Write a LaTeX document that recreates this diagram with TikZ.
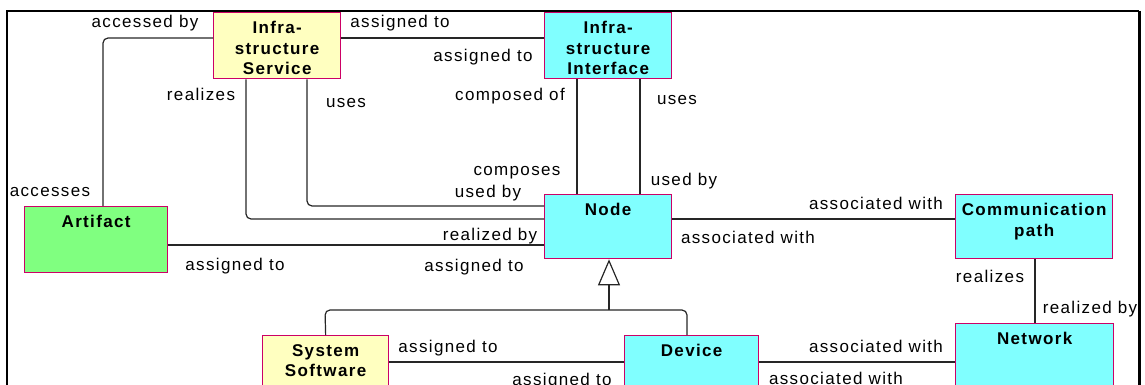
\documentclass[tikz,border=0pt]{standalone}
\usepackage{fontspec}
\setmainfont{Liberation Sans}[LetterSpace=8]
\usepackage{tikz}
\usetikzlibrary{positioning,calc,arrows.meta}
\definecolor{edge}{RGB}{204, 0, 102}
\definecolor{svcyellow}{RGB}{255, 255, 192}
\definecolor{techcyan}{RGB}{128, 255, 255}
\definecolor{artgreen}{RGB}{128, 255, 128}

\tikzset{
  box/.style={draw=edge, line width=1.3pt, anchor=north west, inner sep=0},
  title/.style={anchor=north, yshift=-9pt, inner sep=0, align=center,
    font=\fontsize{17}{20.5}\selectfont\bfseries},
  lbl/.style={anchor=base, inner sep=0, font=\fontsize{17}{20}\selectfont},
  conn/.style={line width=1.2pt, draw=black!85, rounded corners=5pt},
}

\begin{document}
\begin{tikzpicture}[x=1pt, y=-1pt]
    \useasboundingbox (0,0) rectangle (1145,385);
    \clip (0,0) rectangle (1145,385);
    \draw[line width=1.2pt] (7,390) -- (7,11) -- (1139,11);
    \draw[line width=3pt] (1139.5,11) -- (1139.5,390);

    % elements
    \node[box, fill=svcyellow, minimum width=127pt, minimum height=66pt,
      label={[title]north:Infra-\\structure\\Service}] (infrasvc) at (213,12) {};
    \node[box, fill=techcyan, minimum width=127pt, minimum height=66pt,
      label={[title]north:Infra-\\structure\\Interface}] (infraif) at (544,12) {};
    \node[box, fill=artgreen, minimum width=143pt, minimum height=66pt,
      label={[title]north:Artifact}] (artifact) at (24,206) {};
    \node[box, fill=techcyan, minimum width=127pt, minimum height=64pt,
      label={[title]north:Node}] (infranode) at (544,194) {};
    \node[box, fill=techcyan, minimum width=157pt, minimum height=64pt,
      label={[title]north:Communication\\path}] (commpath) at (955,194) {};
    \node[box, fill=techcyan, minimum width=158pt, minimum height=90pt,
      label={[title]north:Network}] (network) at (955,323) {};
    \node[box, fill=svcyellow, minimum width=126pt, minimum height=80pt,
      label={[title]north:System\\Software}] (syssw) at (262,335) {};
    \node[box, fill=techcyan, minimum width=134pt, minimum height=80pt,
      label={[title]north:Device}] (device) at (624,335) {};

    % relations
    \draw[conn] (infrasvc.east |- 0,38) -- (infraif.west |- 0,38);
    \draw[conn] (infrasvc.west |- 0,38) -- (103,38) -- (103,0 |- artifact.north);
    \draw[conn] (246,0 |- infrasvc.south) -- (246,219) -- (infranode.west |- 0,219);
    \draw[conn] (307,0 |- infrasvc.south) -- (307,206) -- (infranode.west |- 0,206);
    \draw[conn] (577,0 |- infraif.south) -- (577,0 |- infranode.north);
    \draw[conn] (640,0 |- infraif.south) -- (640,0 |- infranode.north);
    \draw[conn] (artifact.east |- 0,245) -- (infranode.west |- 0,245);
    \draw[conn] (infranode.east |- 0,219) -- (commpath.west |- 0,219);
    \draw[conn] (1035,0 |- commpath.south) -- (1035,0 |- network.north);
    \draw[conn] (syssw.north) -- (325,310) -- (687,310) -- (687,0 |- device.north);
    \draw[conn, -{Triangle[open, width=22pt, length=26pt, line width=1.2pt]}]
      (609,310) -- (609,0 |- infranode.south);
    \draw[conn] (syssw.east |- 0,362) -- (device.west |- 0,362);
    \draw[conn] (device.east |- 0,362) -- (network.west |- 0,362);

    % role names
    \node[lbl] (accby) at (145,28) {accessed by};
    \node[lbl] (asgsvc) at (400,28) {assigned to};
    \node[lbl] (asgif) at (483,62) {assigned to};
    \node[lbl] (rlzsvc) at (201,101) {realizes};
    \node[lbl] (usessvc) at (346,108) {uses};
    \node[lbl] (compof) at (510,101) {composed of};
    \node[lbl] (usesif) at (677,105) {uses};
    \node[lbl] (comps) at (517,175) {composes};
    \node[lbl] (usedbyif) at (684,185) {used by};
    \node[lbl] (usedbysvc) at (488,197) {used by};
    \node[lbl] (accs) at (50,196) {accesses};
    \node[lbl] (rlzbynode) at (490,240) {realized by};
    \node[lbl] (asgnode) at (474,271) {assigned to};
    \node[lbl] (asgart) at (235,270) {assigned to};
    \node[lbl] (assocnode) at (748,243) {associated with};
    \node[lbl] (assoccomm) at (876,209) {associated with};
    \node[lbl] (rlzcomm) at (990,282) {realizes};
    \node[lbl] (rlzbynet) at (1090,313) {realized by};
    \node[lbl] (assocnet) at (876,352) {associated with};
    \node[lbl] (assocdev) at (836,384) {associated with};
    \node[lbl] (asgsys) at (448,352) {assigned to};
    \node[lbl] (asgdev) at (562,385) {assigned to};
  \end{tikzpicture}
\end{document}
